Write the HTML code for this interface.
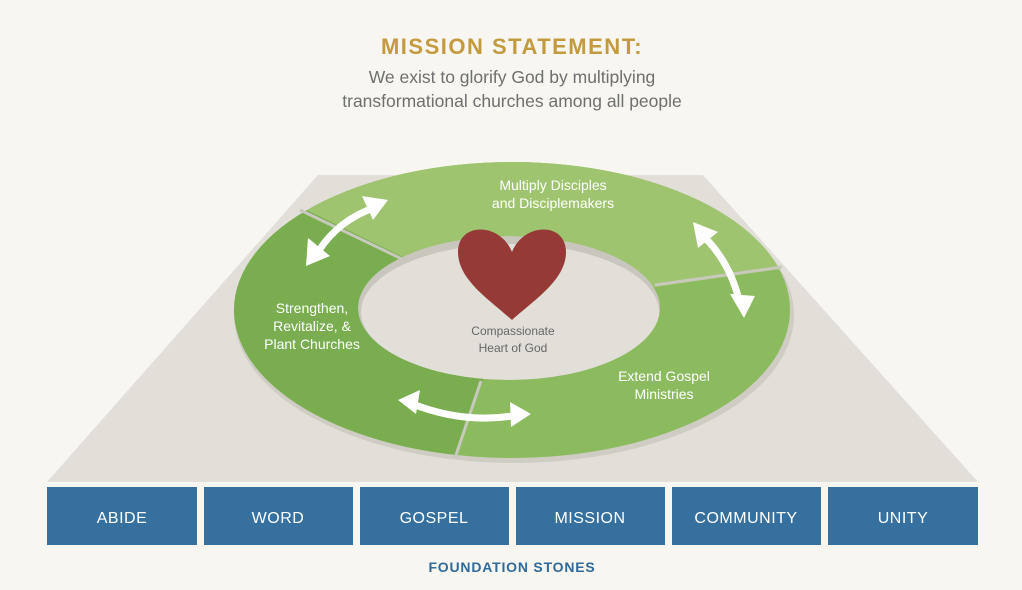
<!DOCTYPE html>
<html><head><meta charset="utf-8"><style>
html,body{margin:0;padding:0;background:#f7f6f1;}
svg{display:block}
</style></head><body>
<svg width="1022" height="590" viewBox="0 0 1022 590" xmlns="http://www.w3.org/2000/svg" font-family="Liberation Sans, sans-serif">
<rect width="1022" height="590" fill="#f7f6f1"/>
<text x="512" y="54" text-anchor="middle" font-size="22" font-weight="bold" fill="#c39a3d" letter-spacing="1.5">MISSION STATEMENT:</text>
<text x="512" y="83" text-anchor="middle" font-size="17.5" fill="#6f6f6f">We exist to glorify God by multiplying</text>
<text x="512" y="107" text-anchor="middle" font-size="17.5" fill="#6f6f6f">transformational churches among all people</text>
<polygon points="318,175 703,175 978,482 47,482" fill="#e2dfd8"/>
<defs>
<clipPath id="ring"><path clip-rule="evenodd" d="M234,310 a278,148 0 1,0 556,0 a278,148 0 1,0 -556,0 Z M358,308 a151,72 0 1,0 302,0 a151,72 0 1,0 -302,0 Z"/></clipPath>
</defs>
<ellipse cx="514" cy="315" rx="280" ry="148" fill="#cfccc4"/>
<ellipse cx="509" cy="308" rx="151" ry="72" fill="#c9c6be"/>
<ellipse cx="510" cy="312" rx="149" ry="68" fill="#e2dfd8"/>
<g clip-path="url(#ring)">
<rect x="200" y="150" width="620" height="320" fill="#8cba5e"/>
<polygon points="508,308 150,134 100,520 434,520" fill="#79ad4f"/>
<polygon points="508,308 150,134 512,60 900,252" fill="#9ec46f"/>
</g>
<g stroke="#c8c9bd" stroke-width="3" fill="none">
<line x1="300" y1="210" x2="402" y2="259"/>
<line x1="655" y1="285" x2="782" y2="267"/>
<line x1="481" y1="381" x2="455" y2="458"/>
</g>
<path d="M512,252 C500,222 458,222 458,252 C458,280 490,300 512,320 C534,300 566,280 566,252 C566,222 524,222 512,252 Z" fill="#963a38"/>
<g stroke="#fff" stroke-width="7" fill="none" stroke-linecap="round">
<path d="M318,252 Q338,220 376,207"/>
<path d="M700,233 Q730,260 740,304"/>
<path d="M410,403 Q465,425 518,415"/>
</g>
<g fill="#fff">
<polygon points="306,266 308,238 330,256"/>
<polygon points="388,200 362,196 373,220"/>
<polygon points="693,222 718,232 698,248"/>
<polygon points="744,318 730,294 755,296"/>
<polygon points="398,400 420,390 416,414"/>
<polygon points="531,414 510,402 511,427"/>
</g>
<g fill="#fff" font-size="14" text-anchor="middle">
<text x="553" y="190">Multiply Disciples</text>
<text x="553" y="208">and Disciplemakers</text>
<text x="312" y="313">Strengthen,</text>
<text x="312" y="331">Revitalize, &amp;</text>
<text x="312" y="349">Plant Churches</text>
<text x="664" y="381">Extend Gospel</text>
<text x="664" y="399">Ministries</text>
</g>
<g fill="#666" font-size="12" text-anchor="middle">
<text x="513" y="335">Compassionate</text>
<text x="513" y="352">Heart of God</text>
</g>
<g fill="#36709f">
<rect x="47" y="487" width="150" height="58"/>
<rect x="204" y="487" width="149" height="58"/>
<rect x="360" y="487" width="149" height="58"/>
<rect x="516" y="487" width="149" height="58"/>
<rect x="672" y="487" width="149" height="58"/>
<rect x="828" y="487" width="150" height="58"/>
</g>
<g fill="#fff" font-size="16" text-anchor="middle" letter-spacing="0.5">
<text x="122" y="523">ABIDE</text>
<text x="278" y="523">WORD</text>
<text x="434" y="523">GOSPEL</text>
<text x="590" y="523">MISSION</text>
<text x="746" y="523">COMMUNITY</text>
<text x="903" y="523">UNITY</text>
</g>
<text x="512" y="572" text-anchor="middle" font-size="14" font-weight="bold" fill="#2f6a9a" letter-spacing="0.8">FOUNDATION STONES</text>
</svg>
</body></html>
